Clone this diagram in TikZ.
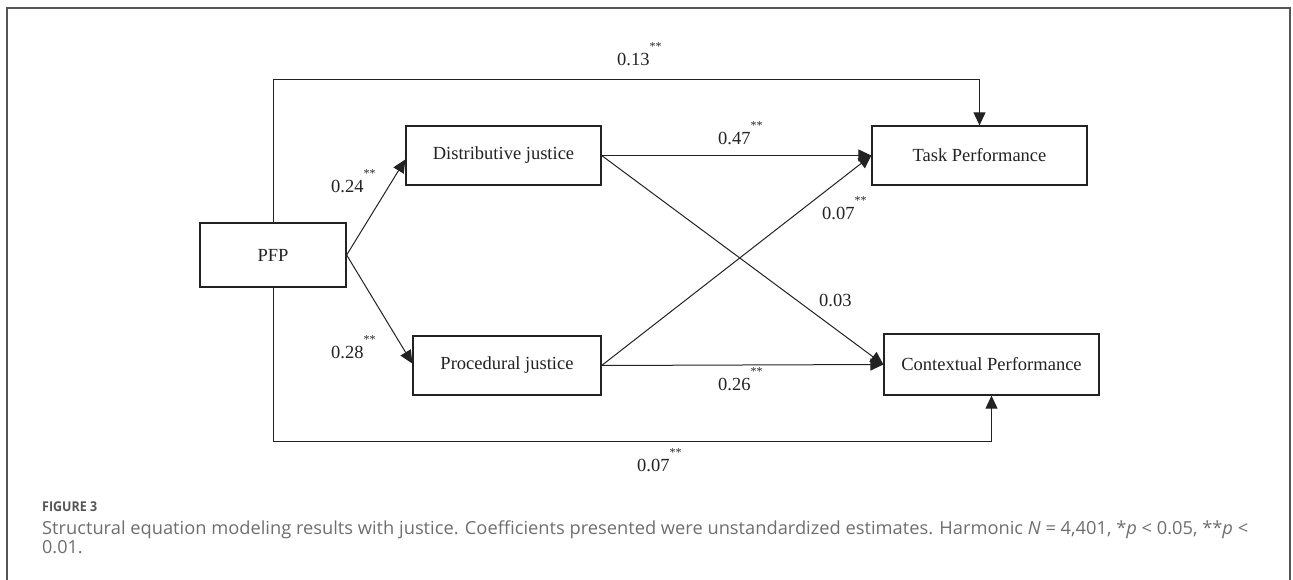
\documentclass[tikz,border=0pt]{standalone}
\usepackage{fontspec}
\setmainfont{Liberation Serif}
\newfontfamily\capfont{Open Sans}
\usetikzlibrary{arrows.meta,calc}
\newcommand\sig{\raisebox{15pt}{\fontsize{12}{12}\selectfont **}}
\definecolor{ink}{HTML}{222222}
\definecolor{capgray}{HTML}{6E6E6E}
\definecolor{framegray}{HTML}{555555}
\tikzset{
  box/.style={draw=ink, line width=1.3pt, inner sep=0pt, font=\fontsize{18.5}{20}\selectfont, text=ink},
  link/.style={draw=ink, line width=1pt, -{Triangle[length=13pt,width=12pt]}},
  coef/.style={inner sep=0pt, anchor=base west, font=\fontsize{18.5}{20}\selectfont, text=ink},
  captext/.style={anchor=base west, inner sep=0pt, text=capgray, font=\capfont\fontsize{18}{19}\selectfont},
}
\begin{document}
\begin{tikzpicture}[x=1pt,y=-1pt]
\useasboundingbox (0,0) rectangle (1293,580);
% outer frame
\draw[framegray, line width=1.2pt] (7,580) -- (7,8) -- (1290,8) -- (1290,580);

% nodes
\node[box, minimum width=146pt, minimum height=64pt] (pfp) at (273,255) {PFP};
\node[box, minimum width=195pt, minimum height=59pt] (dj) at (503.5,155.5) {Distributive justice};
\node[box, minimum width=188pt, minimum height=59pt] (pj) at (507,365.5) {Procedural justice};
\node[box, minimum width=215pt, minimum height=59pt] (tp) at (979.5,155.5) {Task Performance};
\node[box, minimum width=215pt, minimum height=61pt] (cp) at (991.5,364.5) {Contextual Performance};

\coordinate (topc) at (979.5,80);
\coordinate (botc) at (991.5,441);

% connectors
\draw[link] (pfp.east) -- ($(dj.west)+(0,4)$);
\draw[link] (pfp.east) -- ($(pj.west)+(0,-2)$);
\draw[link] (dj.east) -- (tp.west);
\draw[link] (dj.east) -- (cp.west);
\draw[link] (pj.east) -- (tp.west);
\draw[link] (pj.east) -- (cp.west);
\draw[link] (pfp.north) |- (topc) -- (tp.north);
\draw[link] (pfp.south) |- (botc) -- (cp.south);

% coefficients
\node[coef] (c13) at (617,66) {0.13\sig};
\node[coef] (c24) at (331,193) {0.24\sig};
\node[coef] (c28) at (331,358) {0.28\sig};
\node[coef] (c47) at (718,145) {0.47\sig};
\node[coef] (c07a) at (822,219) {0.07\sig};
\node[coef] (c03) at (819,306) {0.03};
\node[coef] (c26) at (718,390) {0.26\sig};
\node[coef] (c07b) at (637,471) {0.07\sig};

% caption
\node[anchor=base west, inner sep=0pt, text=framegray, font=\capfont\bfseries\fontsize{13.5}{15}\selectfont] (fig) at (42,511) {\resizebox{55pt}{\height}{FIGURE 3}};
\node[captext] (cap1) at (42,534) {\resizebox{1206pt}{\height}{Structural equation modeling results with justice. Coefficients presented were unstandardized estimates. Harmonic \textit{N} = 4,401, *\textit{p} < 0.05, **\textit{p} <}};
\node[captext] (cap2) at (42,553) {0.01.};
\end{tikzpicture}
\end{document}
